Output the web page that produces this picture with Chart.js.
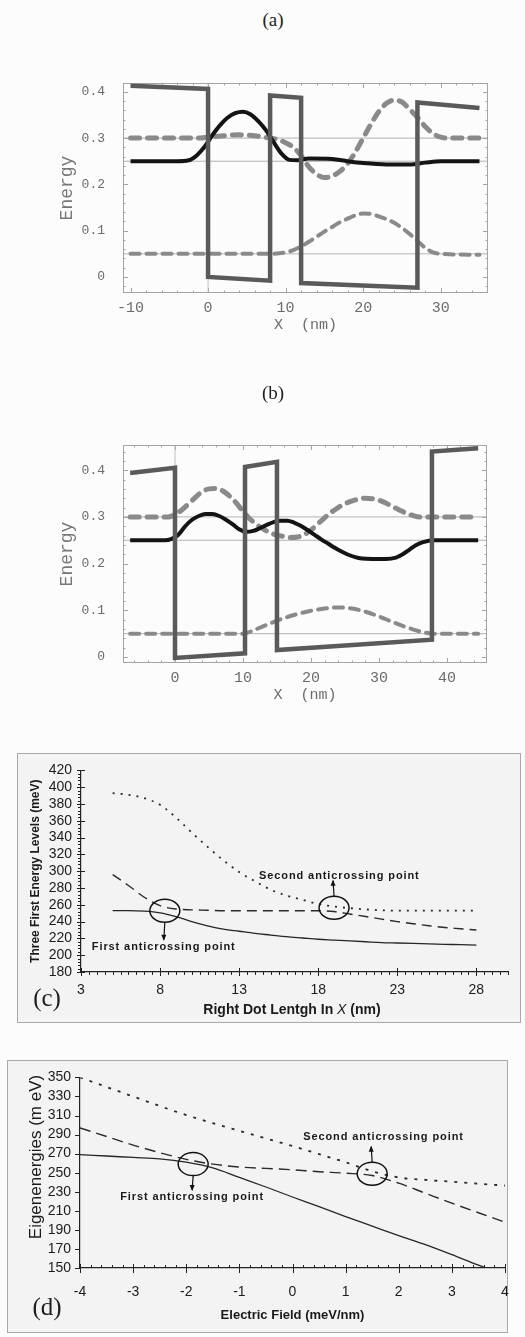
<!DOCTYPE html>
<html>
<head>
<meta charset="utf-8">
<title>Energy levels and anticrossing points</title>
<script src="https://cdn.jsdelivr.net/npm/chart.js"></script>
<style>
  html, body { margin: 0; padding: 0; }
  body { width: 525px; height: 1337px; position: relative; overflow: hidden; background: #fcfcfc; }
  canvas { position: absolute; left: 0; }
  .tag { position: absolute; transform: translate(-50%, -50%); font-family: "Liberation Serif", "Times New Roman", serif; color: #1e1e1e; white-space: nowrap; }
  .box { position: absolute; box-sizing: border-box; border: 1px solid #a9a9a9; background: #f3f3f3; }
</style>
</head>
<body>
<div class="box" style="left:17px;top:753px;width:504px;height:270px"></div>
<div class="box" style="left:7px;top:1060px;width:501px;height:273px"></div>

<canvas id="chartA" width="525" height="300" style="top:40px"></canvas>
<canvas id="chartB" width="525" height="310" style="top:400px"></canvas>
<canvas id="chartC" width="525" height="270" style="top:753px"></canvas>
<canvas id="chartD" width="525" height="272" style="top:1060px"></canvas>

<div class="tag" style="left:273px;top:20px;font-size:19px">(a)</div>
<div class="tag" style="left:273px;top:393px;font-size:19px">(b)</div>
<div class="tag" style="left:47px;top:998px;font-size:25px">(c)</div>
<div class="tag" style="left:47px;top:1307px;font-size:25px">(d)</div>

<script>
// ---------- panel (a): potential profile and three levels ----------
const aXTicks = [-10, 0, 10, 20, 30];
const aYTicks = [0, 0.1, 0.2, 0.3, 0.4];
const aLevels = [0.05, 0.25, 0.3];
const aPotX = [-10, 0, 0, 8, 8, 12, 12, 27, 27, 35];
const aPotY = [0.413, 0.406, 0, -0.008, 0.392, 0.387, -0.013, -0.023, 0.377, 0.365];
const aE2X = [-10, -4, -2.5, -1.5, -0.5, 0.5, 1.5, 2.5, 3.5, 4.5, 5.5, 6.5, 7.5, 8.5, 9.5, 10.5, 11.5, 13, 16, 18, 20, 23, 26, 28, 30, 35];
const aE2Y = [0.25, 0.25, 0.252, 0.262, 0.28, 0.305, 0.327, 0.344, 0.354, 0.357, 0.351, 0.336, 0.316, 0.29, 0.266, 0.253, 0.252, 0.256, 0.255, 0.25, 0.246, 0.243, 0.243, 0.247, 0.25, 0.25];
const aE3X = [-10, -1, 0, 2, 4, 6, 8, 9, 10, 11, 12, 13, 14, 15, 16, 17, 18, 19, 20, 21, 22, 23, 24, 25, 26, 27, 28, 29, 30, 31, 35];
const aE3Y = [0.3, 0.3, 0.302, 0.305, 0.307, 0.305, 0.3, 0.297, 0.29, 0.28, 0.262, 0.238, 0.222, 0.215, 0.218, 0.228, 0.245, 0.27, 0.3, 0.33, 0.357, 0.375, 0.382, 0.378, 0.362, 0.345, 0.325, 0.31, 0.302, 0.3, 0.3];
const aE1X = [-10, 8, 10, 11, 12, 13, 14, 15, 16, 17, 18, 19, 20, 21, 22, 23, 24, 25, 26, 27, 28, 29, 30, 35];
const aE1Y = [0.05, 0.05, 0.053, 0.058, 0.066, 0.076, 0.087, 0.098, 0.108, 0.118, 0.126, 0.133, 0.137, 0.136, 0.131, 0.125, 0.117, 0.106, 0.093, 0.078, 0.063, 0.053, 0.05, 0.048];

// ---------- panel (b) ----------
const bXTicks = [0, 10, 20, 30, 40];
const bYTicks = [0, 0.1, 0.2, 0.3, 0.4];
const bLevels = [0.05, 0.25, 0.3];
const bPotX = [-6.6, 0, 0, 10.3, 10.3, 15, 15, 37.8, 37.8, 44.6];
const bPotY = [0.394, 0.405, -0.002, 0.008, 0.407, 0.418, 0.015, 0.037, 0.44, 0.447];
const bE2X = [-6.6, -1.5, -0.5, 0.5, 1.5, 2.5, 3.5, 4.5, 5.5, 6.5, 7.5, 8.5, 9.5, 10.5, 11.5, 12.5, 13.5, 14.5, 15.5, 16.5, 17.5, 18.5, 19.5, 20.5, 21.5, 22.5, 23.5, 24.5, 25.5, 26.5, 27.5, 29, 31, 32.5, 33.5, 34.5, 35.5, 36.5, 38, 44.6];
const bE2Y = [0.25, 0.25, 0.253, 0.262, 0.28, 0.294, 0.302, 0.306, 0.306, 0.302, 0.294, 0.284, 0.273, 0.268, 0.27, 0.276, 0.283, 0.289, 0.292, 0.292, 0.288, 0.281, 0.272, 0.262, 0.252, 0.243, 0.234, 0.226, 0.219, 0.214, 0.211, 0.21, 0.21, 0.213, 0.22, 0.23, 0.24, 0.246, 0.25, 0.25];
const bE3X = [-6.6, -1, 0, 1, 2, 3, 4, 5, 6, 7, 8, 9, 10, 11, 12, 13, 14, 15, 16, 17, 18, 19, 20, 21, 22, 23, 24, 25, 26, 27, 28, 29, 30, 31, 32, 33, 34, 35, 36, 37, 44.6];
const bE3Y = [0.3, 0.3, 0.305, 0.315, 0.328, 0.342, 0.354, 0.36, 0.361, 0.356, 0.345, 0.33, 0.312, 0.296, 0.284, 0.274, 0.266, 0.261, 0.258, 0.256, 0.257, 0.262, 0.272, 0.285, 0.298, 0.31, 0.32, 0.328, 0.334, 0.338, 0.34, 0.339, 0.336, 0.33, 0.322, 0.315, 0.308, 0.303, 0.3, 0.3, 0.3];
const bE1X = [-6.6, 10, 12, 14, 16, 18, 20, 22, 24, 26, 28, 30, 32, 34, 36, 38, 44.6];
const bE1Y = [0.05, 0.05, 0.06, 0.072, 0.083, 0.092, 0.099, 0.104, 0.106, 0.104, 0.097, 0.087, 0.075, 0.064, 0.055, 0.05, 0.05];

// ---------- panel (c): levels vs right dot length ----------
const cXTicks = [3, 8, 13, 18, 23, 28];
const cYTicks = [180, 200, 220, 240, 260, 280, 300, 320, 340, 360, 380, 400, 420];
const cX = [5, 6, 7, 8, 9, 10, 11, 12, 13, 14, 15, 16, 17, 18, 19, 20, 21, 22, 23, 24, 25, 26, 27, 28];
const cLevel1 = [253, 253, 252.5, 250.5, 246, 240, 235, 231, 228.5, 226, 224, 222, 220.5, 219, 218, 217, 216, 215, 214.5, 214, 213.5, 213, 212.5, 212];
const cLevel2 = [296, 283, 269, 259, 255, 254, 253.5, 253, 253, 253, 253, 253, 253, 253, 252, 249, 246, 243, 240, 237.5, 235, 233, 231.5, 230];
const cLevel3 = [393, 391, 387, 379, 364, 346, 329, 313, 299, 288, 278, 271, 266, 261, 258, 256, 254.5, 253.5, 253, 253, 253, 253, 253, 253];
const cNoteX = [8.3, 19.0];
const cNoteY = [253, 256.5];

// ---------- panel (d): levels vs electric field ----------
const dXTicks = [-4, -3, -2, -1, 0, 1, 2, 3, 4];
const dYTicks = [150, 170, 190, 210, 230, 250, 270, 290, 310, 330, 350];
const dX = [-4, -3.5, -3, -2.5, -2, -1.5, -1, -0.5, 0, 0.5, 1, 1.5, 2, 2.5, 3, 3.5, 4];
const dLevel1 = [269, 267.5, 266, 264.5, 261, 255, 245, 235, 224.5, 214.5, 204, 194, 184, 174.5, 164, 153, 143];
const dLevel2 = [297, 288, 279, 271, 264, 259, 256, 254.5, 253, 251, 249.5, 247, 239, 228.5, 218, 208, 198];
const dLevel3 = [350, 340, 330, 320, 310.5, 302, 294, 286, 278, 269.5, 261, 251.5, 245, 242.5, 240.5, 238.5, 236.5];
const dNoteX = [-1.87, 1.5];
const dNoteY = [259, 249];

const noteText = ['First anticrossing point', 'Second anticrossing point'];

const MONO = '"Liberation Mono", "Courier New", monospace';
const SANS = '"Liberation Sans", Arial, sans-serif';

Chart.defaults.animation = false;
Chart.defaults.events = [];
Chart.defaults.plugins.legend.display = false;
Chart.defaults.plugins.tooltip.enabled = false;
Chart.defaults.elements.point.radius = 0;
Chart.defaults.elements.line.fill = false;

const pts = (xs, ys) => xs.map((x, i) => ({ x, y: ys[i] }));
const fixedTicks = values => scale => { scale.ticks = values.map(v => ({ value: v })); };

// Mathematica style frame with small inward ticks
const mmaFrame = {
  id: 'mmaFrame',
  beforeDatasetsDraw(chart, args, o) {
    const { ctx, chartArea: a, scales: { x, y } } = chart;
    ctx.save();
    ctx.strokeStyle = '#a4a4a4';
    ctx.lineWidth = 1;
    ctx.strokeRect(a.left + 0.5, a.top + 0.5, a.width - 1, a.height - 1);
    const mark = (x0, y0, x1, y1) => { ctx.beginPath(); ctx.moveTo(x0, y0); ctx.lineTo(x1, y1); ctx.stroke(); };
    const isMajor = (v, step) => Math.abs(v / step - Math.round(v / step)) < 1e-6;
    const nx = Math.round((o.x[1] - o.x[0]) / o.x[2]);
    for (let i = 0; i <= nx; i++) {
      const v = o.x[0] + i * o.x[2];
      const px = Math.round(x.getPixelForValue(v)) + 0.5;
      if (px < a.left || px > a.right) continue;
      const len = isMajor(v, o.x[3]) ? 5 : 2.5;
      mark(px, a.bottom, px, a.bottom - len);
      mark(px, a.top, px, a.top + len);
    }
    const ny = Math.round((o.y[1] - o.y[0]) / o.y[2]);
    for (let i = 0; i <= ny; i++) {
      const v = o.y[0] + i * o.y[2];
      const py = Math.round(y.getPixelForValue(v)) + 0.5;
      if (py < a.top || py > a.bottom) continue;
      const len = isMajor(v, o.y[3]) ? 5 : 2.5;
      mark(a.left, py, a.left + len, py);
      mark(a.right, py, a.right - len, py);
    }
    ctx.restore();
  }
};

function mmaChart(id, d) {
  const ref = d.levels.map(v => ({
    data: [{ x: d.xRange[0], y: v }, { x: d.xRange[1], y: v }],
    borderColor: '#a0a0a0', borderWidth: 0.8
  }));
  ref.push({ data: [{ x: 0, y: d.yRange[0] }, { x: 0, y: d.yRange[1] }], borderColor: '#b0b0b0', borderWidth: 0.8 });

  const tickFont = size => ({ family: MONO, size });
  return new Chart(document.getElementById(id), {
    type: 'line',
    data: {
      datasets: [
        { data: pts(d.pot[0], d.pot[1]), borderColor: '#5a5a5a', borderWidth: 4.5, tension: 0, borderJoinStyle: 'miter' },
        { data: pts(d.e2[0], d.e2[1]), borderColor: '#141414', borderWidth: 4, cubicInterpolationMode: 'monotone' },
        { data: pts(d.e3[0], d.e3[1]), borderColor: '#8a8a8a', borderWidth: 5, borderDash: [9, 8], borderCapStyle: 'round', cubicInterpolationMode: 'monotone' },
        { data: pts(d.e1[0], d.e1[1]), borderColor: '#8a8a8a', borderWidth: 4, borderDash: [9, 7], borderCapStyle: 'round', cubicInterpolationMode: 'monotone' },
        ...ref
      ]
    },
    options: {
      responsive: false,
      layout: { padding: { top: d.padTop, right: d.padRight, left: 0, bottom: 0 } },
      scales: {
        x: {
          type: 'linear', min: d.xRange[0], max: d.xRange[1],
          afterBuildTicks: fixedTicks(d.xTicks),
          afterFit: s => { s.height = d.axisH; },
          grid: { display: false, drawTicks: false },
          border: { display: false },
          ticks: { font: tickFont(15), color: '#6b6b6b', padding: 6, maxRotation: 0, autoSkip: false, callback: v => String(v) },
          title: { display: true, text: 'X  (nm)', font: tickFont(15), color: '#6b6b6b', padding: { top: 0, bottom: 6 } }
        },
        y: {
          type: 'linear', min: d.yRange[0], max: d.yRange[1],
          afterBuildTicks: fixedTicks(d.yTicks),
          afterFit: s => { s.width = 123; },
          grid: { display: false, drawTicks: false },
          border: { display: false },
          ticks: { font: tickFont(13), color: '#6b6b6b', padding: 18, autoSkip: false, callback: v => String(v) },
          title: { display: true, text: 'Energy', font: tickFont(18), color: '#777', padding: { top: 56, bottom: 0 } }
        }
      },
      plugins: { mmaFrame: { x: d.frameX, y: d.frameY } }
    },
    plugins: [mmaFrame]
  });
}

mmaChart('chartA', {
  xRange: [-10.97, 36.1], yRange: [-0.0346, 0.419],
  xTicks: aXTicks, yTicks: aYTicks, levels: aLevels,
  pot: [aPotX, aPotY], e1: [aE1X, aE1Y], e2: [aE2X, aE2Y], e3: [aE3X, aE3Y],
  padTop: 43, padRight: 37, axisH: 47,
  frameX: [-10, 36, 2, 10], frameY: [-0.02, 0.42, 0.02, 0.1]
});

mmaChart('chartB', {
  xRange: [-7.65, 45.9], yRange: [-0.0128, 0.454],
  xTicks: bXTicks, yTicks: bYTicks, levels: bLevels,
  pot: [bPotX, bPotY], e1: [bE1X, bE1Y], e2: [bE2X, bE2Y], e3: [bE3X, bE3Y],
  padTop: 45, padRight: 38, axisH: 47,
  frameX: [-6, 44, 2, 10], frameY: [0, 0.44, 0.02, 0.1]
});

// axis tick marks (major + minor) for the spreadsheet style panels
const axisMarks = {
  id: 'axisMarks',
  afterDatasetsDraw(chart, args, o) {
    const { ctx, chartArea: a, scales: { x, y } } = chart;
    ctx.save();
    ctx.strokeStyle = '#222';
    ctx.lineWidth = 1;
    const mark = (x0, y0, x1, y1) => { ctx.beginPath(); ctx.moveTo(x0, y0); ctx.lineTo(x1, y1); ctx.stroke(); };
    const nx = Math.round((x.max - x.min) / o.xMinor);
    for (let i = 0; i <= nx; i++) {
      const px = Math.round(x.getPixelForValue(x.min + i * o.xMinor)) + 0.5;
      mark(px, a.bottom - o.xMinorLen[0], px, a.bottom + o.xMinorLen[1]);
    }
    x.ticks.forEach(t => {
      const px = Math.round(x.getPixelForValue(t.value)) + 0.5;
      mark(px, a.bottom - o.xMajorLen[0], px, a.bottom + o.xMajorLen[1]);
    });
    if (o.yMinor) {
      const ny = Math.round((y.max - y.min) / o.yMinor);
      for (let i = 0; i <= ny; i++) {
        const py = Math.round(y.getPixelForValue(y.min + i * o.yMinor)) + 0.5;
        mark(a.left - o.yMinorLen[0], py, a.left + o.yMinorLen[1], py);
      }
    }
    y.ticks.forEach(t => {
      const py = Math.round(y.getPixelForValue(t.value)) + 0.5;
      mark(a.left - o.yMajorLen[0], py, a.left + o.yMajorLen[1], py);
    });
    ctx.restore();
  }
};

// anticrossing ellipses, arrows and free text
const notes = {
  id: 'notes',
  afterDraw(chart, args, o) {
    const { ctx, scales: { x, y } } = chart;
    ctx.save();
    ctx.strokeStyle = '#111';
    ctx.fillStyle = '#111';
    o.marks.forEach((m, i) => {
      const cx = x.getPixelForValue(o.xs[i]);
      const cy = y.getPixelForValue(o.ys[i]);
      ctx.lineWidth = 1.5;
      ctx.beginPath();
      ctx.ellipse(cx, cy, 15, 11.5, 0, 0, Math.PI * 2);
      ctx.stroke();
      const dir = m.dir;
      const tipY = cy + dir * m.arrow;
      ctx.lineWidth = 1.2;
      ctx.beginPath();
      ctx.moveTo(cx, cy + dir * 11.5);
      ctx.lineTo(cx - 1, tipY);
      ctx.stroke();
      ctx.beginPath();
      ctx.moveTo(cx - 1, tipY + dir);
      ctx.lineTo(cx - 3.5, tipY - dir * 5);
      ctx.lineTo(cx + 1.5, tipY - dir * 5);
      ctx.closePath();
      ctx.fill();
      ctx.font = 'bold 11px ' + SANS;
      ctx.letterSpacing = '0.9px';
      ctx.textAlign = 'left';
      ctx.textBaseline = 'middle';
      ctx.fillStyle = '#1a1a1a';
      ctx.fillText(o.text[i], cx + m.dx, cy + m.dy);
      ctx.fillStyle = '#111';
      ctx.letterSpacing = '0px';
    });
    (o.labels || []).forEach(l => {
      ctx.save();
      ctx.translate(l.x, l.y);
      if (l.rotate) ctx.rotate(l.rotate);
      ctx.fillStyle = '#1a1a1a';
      ctx.textBaseline = 'middle';
      ctx.textAlign = 'left';
      const widths = l.parts.map(p => { ctx.font = p.font; return ctx.measureText(p.t).width; });
      let cur = -widths.reduce((s, w) => s + w, 0) / 2;
      l.parts.forEach((p, k) => { ctx.font = p.font; ctx.fillText(p.t, cur, 0); cur += widths[k]; });
      ctx.restore();
    });
    ctx.restore();
  }
};

function sheetChart(id, d) {
  const tickFont = { family: SANS, size: 14 };
  return new Chart(document.getElementById(id), {
    type: 'line',
    data: {
      datasets: [
        { data: pts(d.x, d.l1), borderColor: '#262626', borderWidth: 1.3, cubicInterpolationMode: 'monotone' },
        { data: pts(d.x, d.l2), borderColor: '#2a2a2a', borderWidth: 1.4, borderDash: d.dash, cubicInterpolationMode: 'monotone' },
        { data: pts(d.x, d.l3), borderColor: '#2a2a2a', borderWidth: 1.8, borderDash: d.dots, cubicInterpolationMode: 'monotone' }
      ]
    },
    options: {
      responsive: false,
      layout: { padding: { top: 16, right: d.padRight, left: 0, bottom: 0 } },
      scales: {
        x: {
          type: 'linear', min: d.xRange[0], max: d.xRange[1],
          afterBuildTicks: fixedTicks(d.xTicks),
          afterFit: s => { s.height = d.axisH; },
          grid: { display: false, drawTicks: false },
          border: { display: true, color: '#222', width: 1.2 },
          ticks: { font: tickFont, color: '#1c1c1c', padding: d.xPad, maxRotation: 0, autoSkip: false, callback: v => String(v) },
          title: d.xTitle
        },
        y: {
          type: 'linear', min: d.yRange[0], max: d.yRange[1],
          afterBuildTicks: fixedTicks(d.yTicks),
          afterFit: s => { s.width = d.axisW; },
          grid: { display: false, drawTicks: false },
          border: { display: true, color: '#222', width: 1.2 },
          ticks: { font: tickFont, color: '#1c1c1c', padding: 9, autoSkip: false, callback: v => String(v) },
          title: d.yTitle
        }
      },
      plugins: { axisMarks: d.marks, notes: d.notes }
    },
    plugins: [axisMarks, notes]
  });
}

sheetChart('chartC', {
  x: cX, l1: cLevel1, l2: cLevel2, l3: cLevel3,
  dash: [10, 6], dots: [2, 6],
  xRange: [3, 30], yRange: [180, 420], xTicks: cXTicks, yTicks: cYTicks,
  padRight: 17, axisH: 51, axisW: 81, xPad: 10,
  xTitle: { display: false },
  yTitle: { display: true, text: 'Three First Energy Levels (meV)', color: '#1a1a1a', font: { family: SANS, size: 12, weight: 'bold' }, padding: { top: 28, bottom: 0 } },
  marks: { xMinor: 0.5, xMinorLen: [0, 3], xMajorLen: [4, 4], yMinor: 4, yMinorLen: [3, 0], yMajorLen: [4, 4] },
  notes: {
    xs: cNoteX, ys: cNoteY, text: noteText,
    marks: [{ dir: 1, arrow: 29, dx: -73, dy: 36 }, { dir: -1, arrow: 27, dx: -75, dy: -32 }],
    labels: [{
      x: 292, y: 257,
      parts: [
        { t: 'Right Dot Lentgh In ', font: 'bold 14px ' + SANS },
        { t: 'X', font: 'italic 14px ' + SANS },
        { t: ' (nm)', font: 'bold 14px ' + SANS }
      ]
    }]
  }
});

sheetChart('chartD', {
  x: dX, l1: dLevel1, l2: dLevel2, l3: dLevel3,
  dash: [11, 6], dots: [3, 7],
  xRange: [-4, 4], yRange: [150, 350], xTicks: dXTicks, yTicks: dYTicks,
  padRight: 20, axisH: 64, axisW: 80, xPad: 16,
  xTitle: { display: true, text: 'Electric Field (meV/nm)', color: '#1a1a1a', font: { family: SANS, size: 13, weight: 'bold' }, padding: { top: 0, bottom: 9 } },
  yTitle: { display: false },
  marks: { xMinor: 0.2, xMinorLen: [3, 0], xMajorLen: [4, 5], yMinor: 0, yMajorLen: [5, 0] },
  notes: {
    xs: dNoteX, ys: dNoteY, text: noteText,
    marks: [{ dir: 1, arrow: 26, dx: -73, dy: 33 }, { dir: -1, arrow: 27, dx: -69, dy: -37 }],
    labels: [{
      x: 36, y: 97, rotate: -Math.PI / 2,
      parts: [{ t: 'Eigenenergies (m eV)', font: '17px ' + SANS }]
    }]
  }
});
</script>
</body>
</html>
